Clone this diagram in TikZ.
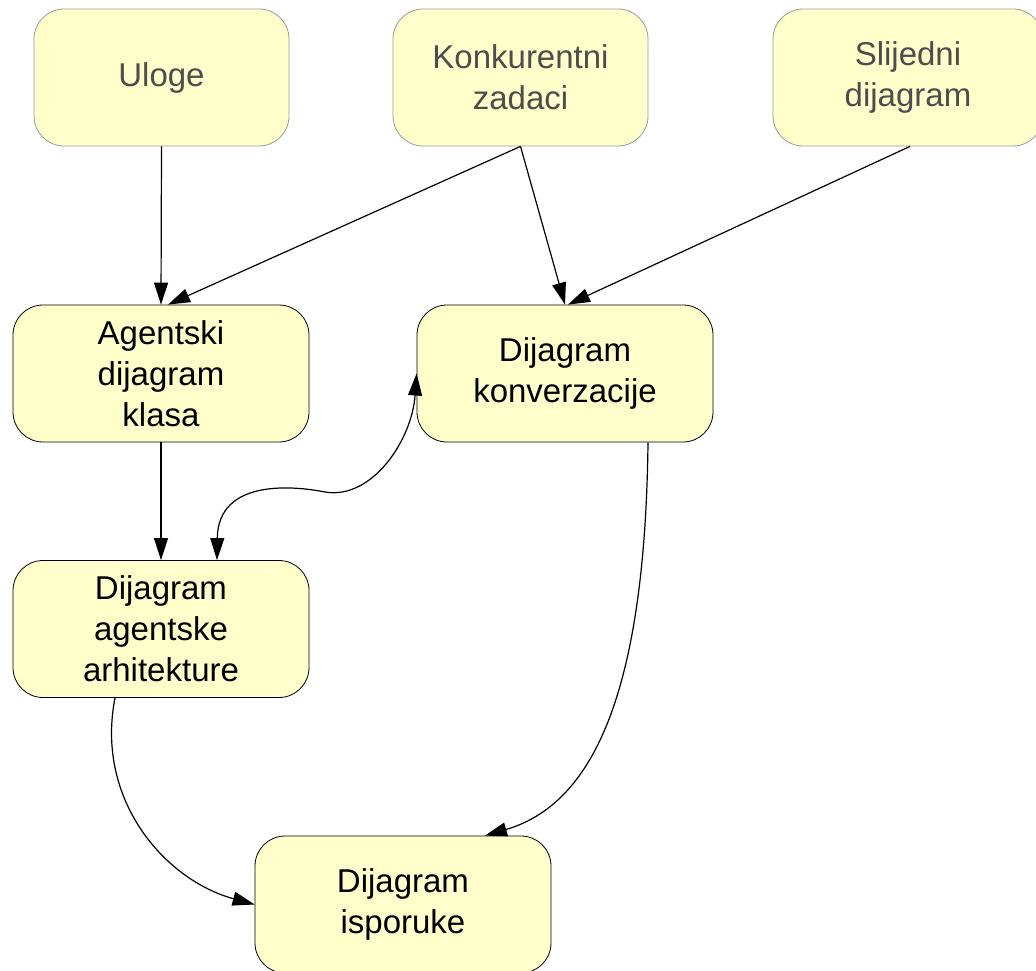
\documentclass[tikz,border=0pt]{standalone}
\usepackage{fontspec}
\setmainfont{Liberation Sans}
\usetikzlibrary{arrows.meta,calc}
\definecolor{boxfill}{HTML}{FFFFCC}
\definecolor{inputedge}{HTML}{9A9A9A}
\definecolor{inputtext}{HTML}{4D4D4D}
\tikzset{
  modelbox/.style={rectangle, rounded corners=30pt, fill=boxfill, draw=black,
    line width=0.8pt, inner sep=0pt, align=center,
    font=\fontsize{33}{41}\selectfont, minimum height=137pt},
  inputbox/.style={modelbox, draw=inputedge, text=inputtext, minimum width=255pt},
  widebox/.style={modelbox, minimum width=296pt},
  flow/.style={draw=black, line width=1.2pt, -{Triangle[length=22pt,width=14pt]}},
  twoway/.style={flow, {Triangle[length=22pt,width=14pt]}-{Triangle[length=22pt,width=14pt]}}
}
\begin{document}
\begin{tikzpicture}[x=1pt,y=-1pt]
\useasboundingbox (0,0) rectangle (1036,971);

% source artefacts
\node[inputbox] (uloge) at (161.5,77.5) {Uloge};
\node[inputbox] (konk) at (520.5,77.5) {Konkurentni\\zadaci};
\node[inputbox, minimum width=270pt] (slij) at (908,77.5) {Slijedni\\dijagram};

% derived diagrams
\node[widebox] (agent) at (161,373.5) {Agentski\\dijagram\\klasa};
\node[widebox] (konv) at (565,373.5) {Dijagram\\konverzacije};
\node[widebox] (arh) at (161,629) {Dijagram\\agentske\\arhitekture};
\node[widebox] (isp) at (403,904.5) {Dijagram\\isporuke};

% dependencies
\draw[flow] (uloge.south) -- (agent.north);
\draw[flow] (konk.south) -- ($(agent.north)+(7,0)$);
\draw[flow] (konk.south) -- (konv.north);
\draw[flow] ($(slij.south)+(2,0)$) -- ($(konv.north)+(3,0)$);
\draw[flow] (agent.south) -- (arh.north);
\draw[twoway] (konv.west)
  .. controls (412,440) and (372,500) .. (325,492)
  .. controls (295,486) and (218,478) .. ($(arh.north)+(56,0)$);
\draw[flow] ($(konv.south)+(83,0)$)
  .. controls (645,700) and (590,805) .. ($(isp.north)+(82,0)$);
\draw[flow] ($(arh.south)+(-46,0)$)
  .. controls (95,800) and (165,880) .. (isp.west);
\end{tikzpicture}
\end{document}
